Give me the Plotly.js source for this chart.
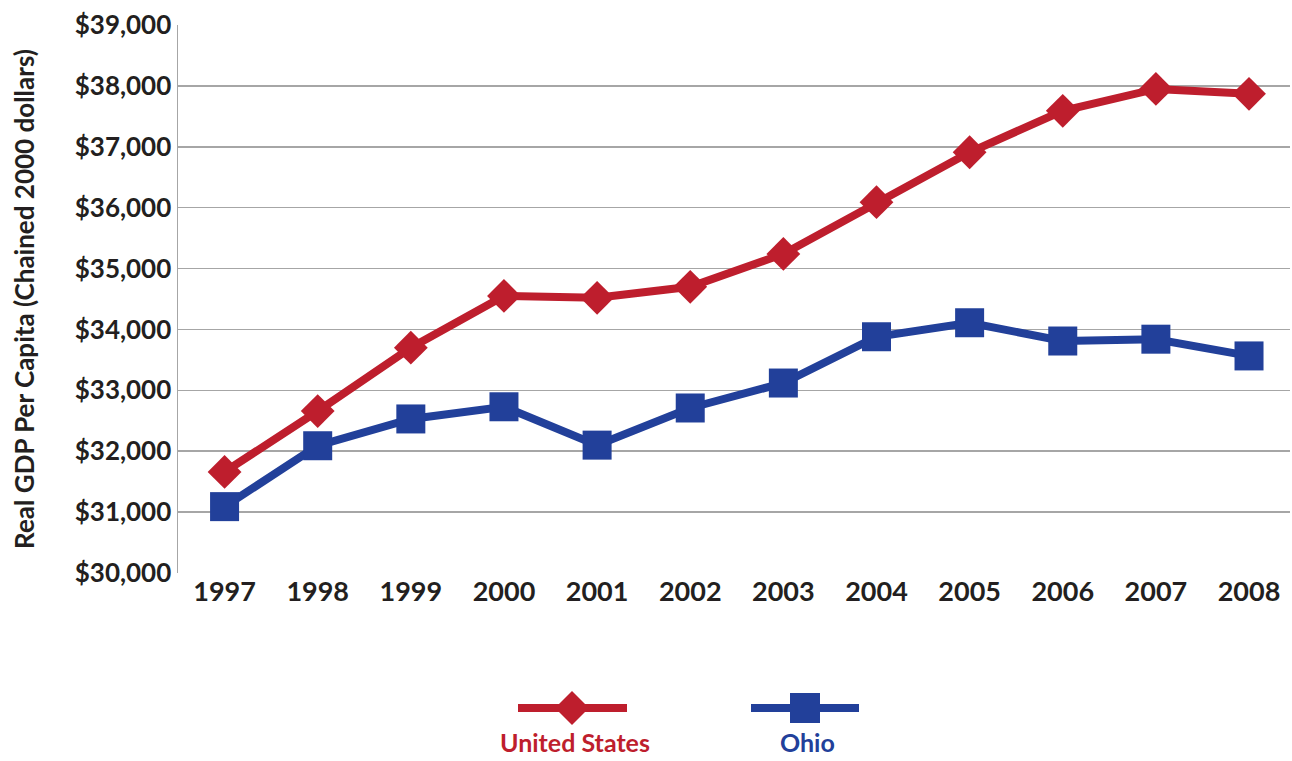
<!DOCTYPE html>
<html>
<head>
<meta charset="utf-8">
<script src="https://cdn.plot.ly/plotly-3.0.1.min.js"></script>
<style>html,body{margin:0;padding:0;background:#fff;}#chart{width:1292px;height:761px;}</style>
</head>
<body>
<div id="chart"></div>
<script>
const years = ["1997","1998","1999","2000","2001","2002","2003","2004","2005","2006","2007","2008"];
const unitedStates = [31660, 32660, 33700, 34550, 34520, 34700, 35240, 36090, 36910, 37590, 37950, 37870];
const ohio = [31090, 32090, 32530, 32730, 32100, 32710, 33120, 33880, 34110, 33810, 33840, 33565];
const yTickVals = [30000, 31000, 32000, 33000, 34000, 35000, 36000, 37000, 38000, 39000];
const yTickText = ["$30,000","$31,000","$32,000","$33,000","$34,000","$35,000","$36,000","$37,000","$38,000","$39,000"];
const seriesNames = ["United States", "Ohio"];

const RED = "#BE1E2D", BLUE = "#22409A";
const FONT = "Lato, 'Open Sans', sans-serif";
const TXT = "#231f20";

// plot-area geometry (pixels) used only to place legend decorations
const L = 178, T = 25, W = 1112, H = 548;
const px = v => (v - L) / W;
const py = v => (T + H - v) / H;

const traces = [
  {x: years, y: unitedStates, type: "scatter", mode: "lines+markers", name: seriesNames[0],
   line: {color: RED, width: 8}, marker: {symbol: "diamond", size: 26, color: RED}},
  {x: years, y: ohio, type: "scatter", mode: "lines+markers", name: seriesNames[1],
   line: {color: BLUE, width: 8}, marker: {symbol: "square", size: 29, color: BLUE}}
];

// legend samples (drawn as decorations below the plot)
const legY = 708;
const shapes = [
  {type: "line", xref: "paper", yref: "paper", x0: px(518), x1: px(627), y0: py(legY), y1: py(legY),
   line: {color: RED, width: 8}},
  {type: "path", xref: "paper", yref: "paper",
   path: `M ${px(572)} ${py(legY-17)} L ${px(589)} ${py(legY)} L ${px(572)} ${py(legY+17)} L ${px(555)} ${py(legY)} Z`,
   fillcolor: RED, line: {width: 0}},
  {type: "line", xref: "paper", yref: "paper", x0: px(751), x1: px(859), y0: py(legY), y1: py(legY),
   line: {color: BLUE, width: 8}},
  {type: "rect", xref: "paper", yref: "paper", x0: px(790), x1: px(820), y0: py(legY-15), y1: py(legY+15),
   fillcolor: BLUE, line: {width: 0}}
];

const layout = {
  width: 1292, height: 761,
  margin: {l: L, r: 2, t: T, b: 188},
  paper_bgcolor: "#fff", plot_bgcolor: "#fff",
  font: {family: FONT, color: TXT},
  showlegend: false,
  xaxis: {type: "category", range: [-0.5, 11.44], showgrid: false, zeroline: false,
          showline: false, ticks: "", tickfont: {size: 27, family: FONT, weight: 700, color: TXT}},
  yaxis: {range: [30000, 39000], tickvals: yTickVals, ticktext: yTickText,
          showgrid: true, gridcolor: "#a6a6a6", gridwidth: 1.5, zeroline: false,
          showline: true, linecolor: "#a6a6a6", linewidth: 1.5, ticks: "",
          tickfont: {size: 26, family: FONT, weight: 700, color: TXT},
          title: {text: "Real GDP Per Capita (Chained 2000 dollars)", standoff: 32,
                  font: {size: 26, family: FONT, weight: 700, color: TXT}}},
  shapes: shapes,
  annotations: [
    {text: seriesNames[0], xref: "paper", yref: "paper", x: px(575), y: py(759),
     showarrow: false, xanchor: "center", yanchor: "bottom", font: {size: 25, family: FONT, weight: 700, color: RED}},
    {text: seriesNames[1], xref: "paper", yref: "paper", x: px(807), y: py(759),
     showarrow: false, xanchor: "center", yanchor: "bottom", font: {size: 25, family: FONT, weight: 700, color: BLUE}}
  ]
};

Plotly.newPlot("chart", traces, layout, {displayModeBar: false, staticPlot: true});
</script>
</body>
</html>
